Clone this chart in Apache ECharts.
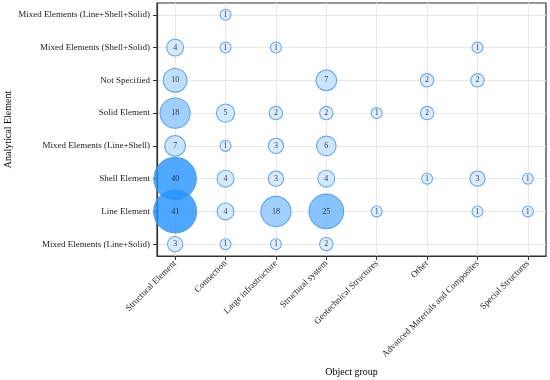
<!DOCTYPE html>
<html>
<head>
<meta charset="utf-8">
<script src="https://cdn.jsdelivr.net/npm/echarts@6/dist/echarts.min.js"></script>
<style>html,body{margin:0;padding:0;background:#fff}#c{width:550px;height:380px}</style>
</head>
<body>
<div id="c"></div>
<script>
const objectGroups = ["Structural Element","Connection","Large infrastructure","Structural system","Geotechnical Structures","Other","Advanced Materials and Composites","Special Structures"];
const analyticalElements = ["Mixed Elements (Line+Solid)","Line Element","Shell Element","Mixed Elements (Line+Shell)","Solid Element","Not Specified","Mixed Elements (Shell+Solid)","Mixed Elements (Line+Shell+Solid)"];
// counts per analytical element row, in objectGroups order (0 = no bubble)
const rowLineSolid      = [3, 1, 1, 2, 0, 0, 0, 0];
const rowLine           = [41, 4, 18, 25, 1, 0, 1, 1];
const rowShell          = [40, 4, 3, 4, 0, 1, 3, 1];
const rowLineShell      = [7, 1, 3, 6, 0, 0, 0, 0];
const rowSolid          = [18, 5, 2, 2, 1, 2, 0, 0];
const rowNotSpecified   = [10, 0, 0, 7, 0, 2, 2, 0];
const rowShellSolid     = [4, 1, 1, 0, 0, 0, 1, 0];
const rowLineShellSolid = [0, 1, 0, 0, 0, 0, 0, 0];
const rows = [rowLineSolid, rowLine, rowShell, rowLineShell, rowSolid, rowNotSpecified, rowShellSolid, rowLineShellSolid];

const data = [];
rows.forEach((row, yi) => row.forEach((v, xi) => { if (v > 0) data.push([xi, yi, v]); }));

const idx = [0,1,2,3,4,5,6,7];
const serif = "'Liberation Serif','DejaVu Serif',serif";
const chart = echarts.init(document.getElementById('c'), null, {renderer: 'canvas'});
chart.setOption({
  animation: false,
  grid: {left: 157, right: 4, top: 3, bottom: 124, show: true, borderColor: '#333', borderWidth: 1.2,
         containLabel: false, outerBoundsMode: 'none'},
  xAxis: {
    type: 'value', min: -0.36, max: 7.36,
    name: 'Object group', nameLocation: 'middle', nameGap: 111, nameMoveOverlap: false,
    nameTextStyle: {fontFamily: serif, fontSize: 10, color: '#000'},
    axisLine: {show: true, onZero: false, lineStyle: {color: '#333', width: 1.2}},
    axisTick: {show: true, length: 4, customValues: idx, lineStyle: {color: '#333'}},
    axisLabel: {customValues: idx, rotate: 45, margin: 6, fontFamily: serif, fontSize: 9, color: '#1a1a1a',
      formatter: v => objectGroups[Math.round(v)]},
    splitLine: {show: true, lineStyle: {color: '#e8e8e8', width: 1}}
  },
  yAxis: {
    type: 'value', min: -0.36, max: 7.36,
    name: 'Analytical Element', nameLocation: 'middle', nameGap: 144, nameRotate: 90, nameMoveOverlap: false,
    nameTextStyle: {fontFamily: serif, fontSize: 10, color: '#000'},
    axisLine: {show: true, onZero: false, lineStyle: {color: '#333', width: 1.2}},
    axisTick: {show: true, length: 4, customValues: idx, lineStyle: {color: '#333'}},
    axisLabel: {customValues: idx, margin: 7, fontFamily: serif, fontSize: 9, color: '#1a1a1a',
      formatter: v => analyticalElements[Math.round(v)]},
    splitLine: {show: true, lineStyle: {color: '#e8e8e8', width: 1}}
  },
  visualMap: {show: false, dimension: 2, min: 1, max: 41, inRange: {color: ['#d8ebfd', '#2090ff']}},
  series: [{
    type: 'scatter',
    data: data,
    symbolSize: d => 5 + 5.93 * Math.sqrt(d[2]),
    itemStyle: {opacity: 0.8, borderColor: '#4496e6', borderWidth: 1.1},
    label: {show: true, position: 'inside', formatter: p => p.value[2], fontFamily: serif, fontSize: 8, color: '#111'}
  }]
});
</script>
</body>
</html>
